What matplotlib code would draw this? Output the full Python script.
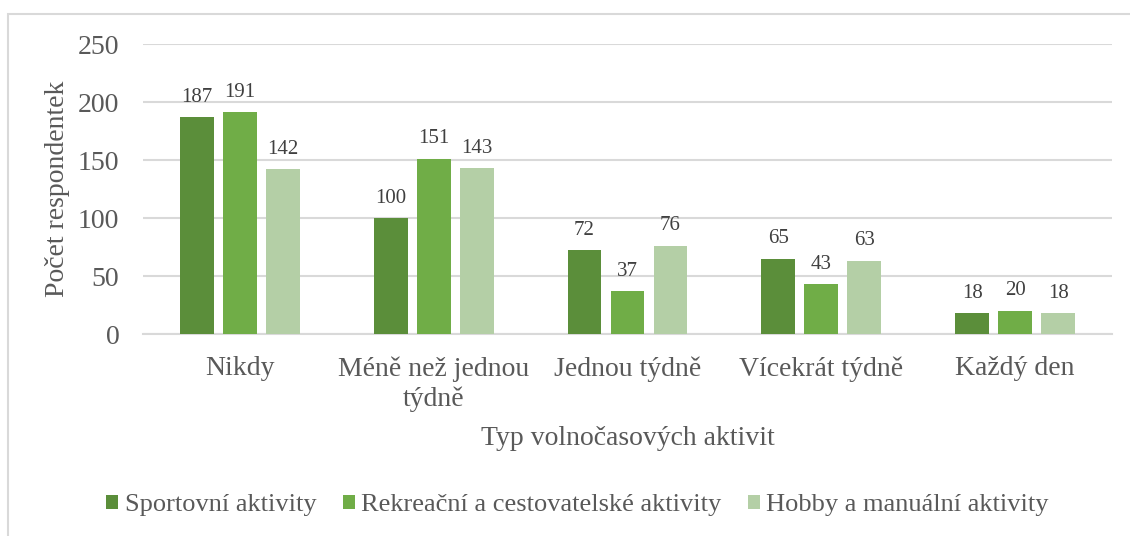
import matplotlib
matplotlib.use("Agg")
import matplotlib.pyplot as plt
import numpy as np
from matplotlib.patches import Rectangle

categories = ["Nikdy", "Méně než jednou\ntýdně", "Jednou týdně", "Vícekrát týdně", "Každý den"]
series_names = ["Sportovní aktivity", "Rekreační a cestovatelské aktivity", "Hobby a manuální aktivity"]
sportovni = [187, 100, 72, 65, 18]
rekreacni = [191, 151, 37, 43, 20]
hobby = [142, 143, 76, 63, 18]
y_ticks = [0, 50, 100, 150, 200, 250]
colors = ["#5B8E3A", "#70AD47", "#B4CFA6"]
text_color = "#595959"

plt.rcParams['font.family'] = ['Liberation Serif', 'DejaVu Serif']

W, H = 1130, 536
fig = plt.figure(figsize=(W / 100, H / 100), dpi=100)
fig.patches.append(Rectangle((8 / W, -0.1), 1.2, 1 - 14 / H + 0.1, transform=fig.transFigure,
                             fill=False, edgecolor="#D9D9D9", linewidth=1.5))

ax = fig.add_axes([143 / W, 1 - 334 / H, (1112 - 143) / W, (334 - 44) / H])
x = np.arange(len(categories))
offset = 0.222
width = 0.175
for i, (vals, name, col) in enumerate(zip([sportovni, rekreacni, hobby], series_names, colors)):
    bars = ax.bar(x + (i - 1) * offset, vals, width, color=col, label=name, zorder=3)
    for b, v in zip(bars, vals):
        ax.text(b.get_x() + b.get_width() / 2, v + 9, str(v), ha="center", va="bottom",
                fontsize=15, color="#404040")

ax.set_xlim(-0.5, len(categories) - 0.5)
ax.set_ylim(0, 250)
ax.set_yticks(y_ticks)
ax.set_yticklabels([str(t) for t in y_ticks])
ax.yaxis.grid(True, color="#D9D9D9", linewidth=1.5, zorder=0)
ax.set_axisbelow(True)
for s in ["top", "right", "left"]:
    ax.spines[s].set_visible(False)
ax.spines["bottom"].set_color("#D9D9D9")
ax.spines["bottom"].set_linewidth(1.5)
ax.tick_params(axis="both", length=0, labelsize=20, labelcolor=text_color)
ax.tick_params(axis="y", pad=17)
ax.tick_params(axis="x", pad=16)
ax.set_xticks(x)
ax.set_xticklabels(categories, linespacing=1.25)
ax.set_ylabel("Počet respondentek", fontsize=20, color=text_color, labelpad=6)
ax.set_xlabel("Typ volnočasových aktivit", fontsize=20, color=text_color, labelpad=10)

fig.legend(loc="center", bbox_to_anchor=(0.511, 1 - 505 / H), ncol=3, frameon=False,
           fontsize=19, labelcolor=text_color, handlelength=0.45, handleheight=0.45,
           handletextpad=0.25, columnspacing=1.0)

fig.savefig("out.png", dpi=100, facecolor="white")
